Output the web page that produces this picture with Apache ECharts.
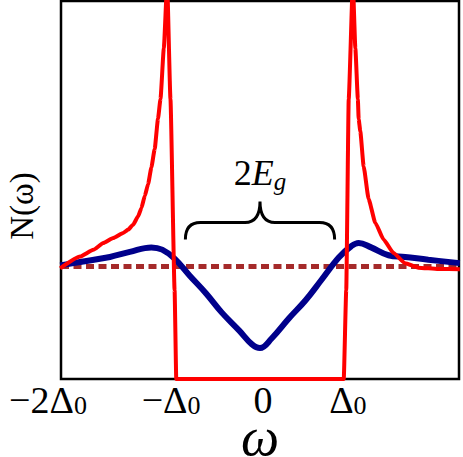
<!DOCTYPE html>
<html>
<head>
<meta charset="utf-8">
<script src="https://cdn.jsdelivr.net/npm/echarts@6/dist/echarts.min.js"></script>
<style>
  html, body { margin: 0; padding: 0; background: #fff; }
  #chart { width: 463px; height: 457px; }
</style>
</head>
<body>
<div id="chart"></div>
<script>
// superconducting DOS (red)
const scOmega = [-2.41, -2.17, -2.01, -1.89, -1.77, -1.65, -1.59, -1.53, -1.47, -1.43, -1.39, -1.35, -1.31, -1.27, -1.23, -1.20, -1.16, -1.12, -1.08, -1.03, -1.01,
                 1.01, 1.04, 1.07, 1.12, 1.15, 1.18, 1.19, 1.21, 1.25, 1.31, 1.39, 1.49, 1.61, 1.75, 1.91, 2.15, 2.41]
const scDos = [0.984, 1.088, 1.148, 1.208, 1.253, 1.298, 1.328, 1.372, 1.446, 1.521, 1.626, 1.731, 1.881, 2.045, 2.314, 2.49, 2.94, 3.52, 2.49, 0.79, 0,
               0, 0.79, 2.49, 3.52, 2.94, 2.49, 2.31, 2.20, 1.89, 1.60, 1.39, 1.24, 1.12, 1.03, 0.99, 0.978, 0.975]

// pseudogap DOS (blue)
const pgOmega = [-2.41, -2.17, -1.81, -1.57, -1.31, -1.18, -1.03, -0.85, -0.65, -0.46, -0.25, -0.10, 0.0, 0.14, 0.35, 0.55, 0.74, 0.95, 1.10, 1.19, 1.34, 1.55, 1.75, 2.03, 2.41]
const pgDos = [1.01, 1.04, 1.085, 1.13, 1.17, 1.15, 1.07, 0.92, 0.76, 0.59, 0.43, 0.31, 0.275, 0.36, 0.54, 0.70, 0.88, 1.08, 1.18, 1.21, 1.17, 1.10, 1.085, 1.06, 1.03]

// normal state (dashed)
const normalOmega = [-2.4, 2.4]
const normalDos = [1, 1]

// brace marking 2E_g
const gapEdges = [-0.9, 0.9]

const tickValues = [-2.4, -1, 0, 1]
const tickMain = ['−2Δ', '−Δ', '0', 'Δ']
const tickSub = ['0', '0', '', '0']

const serif = '"Liberation Serif", "DejaVu Serif", serif'
const labelShift = [-13, -6, 3, 5]

const zip = (xs, ys) => xs.map((x, i) => [x, ys[i]])

const tickRich = {}
tickValues.forEach((v, i) => {
  const s = labelShift[i]
  tickRich['m' + i] = {
    fontSize: 38, fontFamily: serif, color: '#000', lineHeight: 36,
    padding: [0, tickSub[i] ? 0 : Math.max(0, -2 * s), 0, Math.max(0, 2 * s)]
  }
  tickRich['s' + i] = {
    fontSize: 26, fontFamily: serif, color: '#000', lineHeight: 20, verticalAlign: 'bottom',
    padding: [0, Math.max(0, -2 * s), 0, 0]
  }
})

const chart = echarts.init(document.getElementById('chart'), null, { renderer: 'svg' })

const option = {
  animation: false,
  backgroundColor: '#fff',
  grid: {
    left: 61, right: 4, top: 1, bottom: 78,
    containLabel: false,
    outerBoundsMode: 'none',
    show: true, borderColor: '#000', borderWidth: 2.5, backgroundColor: 'transparent'
  },
  xAxis: {
    type: 'value',
    min: -2.4, max: 2.4,
    splitLine: { show: false },
    axisTick: { show: false },
    axisLine: { show: false },
    axisLabel: {
      customValues: tickValues,
      margin: 3,
      formatter: (val) => {
        let i = 0
        tickValues.forEach((t, k) => { if (Math.abs(t - val) < Math.abs(tickValues[i] - val)) i = k })
        return '{m' + i + '|' + tickMain[i] + '}' + (tickSub[i] ? '{s' + i + '|' + tickSub[i] + '}' : '')
      },
      rich: tickRich
    },
    name: 'ω',
    nameLocation: 'middle',
    nameGap: 41,
    nameMoveOverlap: false,
    nameTextStyle: { fontSize: 54, fontStyle: 'italic', fontFamily: serif, color: '#000', lineHeight: 34 }
  },
  yAxis: {
    type: 'value',
    min: 0, max: 3.36,
    splitLine: { show: false },
    axisTick: { show: false },
    axisLine: { show: false },
    axisLabel: { show: false },
    name: 'N(ω)',
    nameLocation: 'middle',
    nameGap: 23,
    nameMoveOverlap: false,
    nameTextStyle: { fontSize: 33, fontFamily: serif, color: '#000', padding: [0, 32, 0, 0] }
  },
  series: [
    {
      name: 'normal',
      type: 'line',
      data: zip(normalOmega, normalDos),
      symbol: 'none',
      lineStyle: { color: '#a52a2a', width: 5, type: [8, 4.5] },
      z: 2
    },
    {
      name: 'pseudogap',
      type: 'line',
      data: zip(pgOmega, pgDos),
      symbol: 'none',
      smooth: 0.4,
      lineStyle: { color: '#00008b', width: 6 },
      z: 3
    },
    {
      name: 'sc',
      type: 'line',
      data: zip(scOmega, scDos),
      symbol: 'none',
      smooth: 0.15,
      smoothMonotone: 'x',
      lineStyle: { color: '#ff0000', width: 4, join: 'round' },
      z: 4
    },
    {
      name: 'brace',
      type: 'custom',
      clip: false,
      z: 5,
      data: [gapEdges],
      renderItem: (params, api) => {
        const a = api.coord([api.value(0), 1.24])
        const b = api.coord([api.value(1), 1.24])
        const x0 = a[0], x1 = b[0], yb = a[1]
        const xm = (x0 + x1) / 2, ya = yb - 17, yt = yb - 38, r = 15
        const d = 'M' + x0 + ' ' + yb + ' Q' + x0 + ' ' + ya + ' ' + (x0 + r) + ' ' + ya +
          ' L' + (xm - r) + ' ' + ya + ' Q' + xm + ' ' + ya + ' ' + xm + ' ' + yt +
          ' Q' + xm + ' ' + ya + ' ' + (xm + r) + ' ' + ya +
          ' L' + (x1 - r) + ' ' + ya + ' Q' + x1 + ' ' + ya + ' ' + x1 + ' ' + yb
        return {
          type: 'group',
          children: [
            { type: 'path', shape: { pathData: d }, style: { fill: 'none', stroke: '#000', lineWidth: 3 } },
            {
              type: 'text',
              x: xm, y: yt - 8,
              style: {
                text: '{n|2}{e|E}{s|g}',
                align: 'center',
                verticalAlign: 'bottom',
                rich: {
                  n: { fontSize: 36, fontFamily: serif, fill: '#000', lineHeight: 42 },
                  e: { fontSize: 36, fontFamily: serif, fontStyle: 'italic', fill: '#000', lineHeight: 42 },
                  s: { fontSize: 25, fontFamily: serif, fontStyle: 'italic', fill: '#000', lineHeight: 25, verticalAlign: 'bottom' }
                }
              }
            }
          ]
        }
      }
    }
  ]
}

chart.setOption(option)
</script>
</body>
</html>
